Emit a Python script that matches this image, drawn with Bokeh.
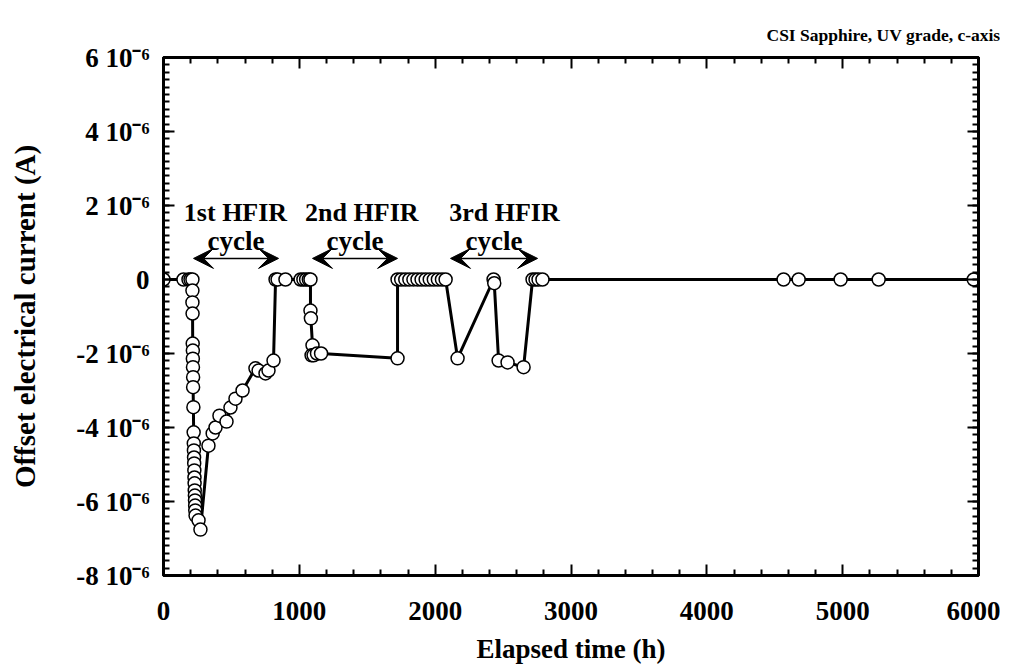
from bokeh.plotting import figure
from bokeh.models import (LinearAxis, FixedTicker, Arrow, VeeHead, Title,
                          ColumnDataSource, CustomJSTickFormatter)
from bokeh.core.properties import value
from bokeh.embed import file_html
from bokeh.resources import INLINE
import numpy as np

# ---------------- data (elapsed time in h, current in microamps) ----------
time_h = [0, 147, 184, 199, 213,
          213, 213, 214, 215, 216, 216, 217, 218, 218, 220, 222, 223, 224, 225,
          226, 227, 228, 229, 230, 231, 232, 233, 234, 236, 258, 272,
          331, 362, 383, 412, 464, 493, 530, 582, 677, 700, 751, 773, 810,
          825, 840, 898, 1009, 1030, 1050, 1070, 1082, 1082, 1085, 1097, 1090,
          1105, 1130, 1160, 1723,
          1723, 1750, 1780, 1810, 1840, 1870, 1900, 1930, 1960, 1990, 2020,
          2050, 2077,
          2165, 2430, 2435, 2467, 2533, 2651, 2717, 2739, 2761, 2790,
          4565, 4676, 4985, 5265, 5965]
current_uA = [0, 0, 0, 0, 0,
              -0.30, -0.62, -0.92, -1.73, -1.92, -2.14, -2.37, -2.64, -2.91,
              -3.45, -4.13, -4.43, -4.62, -4.81, -4.97, -5.16, -5.35, -5.51,
              -5.70, -5.84, -5.97, -6.11, -6.24, -6.38, -6.51, -6.76,
              -4.49, -4.16, -4.00, -3.68, -3.84, -3.46, -3.22, -3.00, -2.40,
              -2.46, -2.54, -2.46, -2.19,
              0, 0, 0, 0, 0, 0, 0, 0, -0.84, -1.05, -1.78, -2.05,
              -2.05, -2.00, -2.00, -2.13,
              0, 0, 0, 0, 0, 0, 0, 0, 0, 0, 0,
              0, 0,
              -2.13, 0, -0.10, -2.19, -2.24, -2.37, 0, 0, 0, 0,
              0, 0, 0, 0, 0]
current_A = [c * 1e-6 for c in current_uA]

x_ticks = [0, 1000, 2000, 3000, 4000, 5000, 6000]
x_tick_labels = ["0", "1000", "2000", "3000", "4000", "5000", "6000"]
y_ticks = [-8e-6, -6e-6, -4e-6, -2e-6, 0.0, 2e-6, 4e-6, 6e-6]
y_tick_labels = ["-8 10\u207b\u2076", "-6 10\u207b\u2076", "-4 10\u207b\u2076",
                 "-2 10\u207b\u2076", "0", "2 10\u207b\u2076",
                 "4 10\u207b\u2076", "6 10\u207b\u2076"]

cycle_names = ["1st HFIR", "2nd HFIR", "3rd HFIR"]
cycle_name_x = [530, 1460, 2510]
cycle_start = [221, 1097, 2113]
cycle_end = [847, 1723, 2754]

title_text = "CSI Sapphire, UV grade, c-axis"
x_label = "Elapsed time (h)"
y_label = "Offset electrical current (A)"

FONT = "Liberation Serif"

p = figure(width=1000, height=669, output_backend="svg", toolbar_location=None,
           x_range=(0, 6000), y_range=(-8e-6, 6e-6),
           min_border_left=163, min_border_right=22, min_border_top=57,
           min_border_bottom=94, x_axis_type=None, y_axis_type=None)
p.grid.visible = False
p.outline_line_color = "black"
p.outline_line_width = 3
p.background_fill_color = "white"
p.border_fill_color = "white"

x_minor = [v for v in np.arange(0, 6001, 200) if v % 1000 != 0]
y_minor = [v * 1e-6 for v in np.arange(-8, 6.01, 0.2)]

blank = CustomJSTickFormatter(code="return ''")


def style_axis(ax, labels=True):
    ax.axis_line_color = "black"
    ax.axis_line_width = 3
    ax.major_tick_in = 11
    ax.major_tick_out = 0
    ax.minor_tick_in = 6
    ax.minor_tick_out = 0
    ax.major_tick_line_width = 2
    ax.minor_tick_line_width = 2
    ax.major_tick_line_color = "black"
    ax.minor_tick_line_color = "black"
    ax.major_label_text_font = FONT
    ax.major_label_text_font_style = "bold"
    ax.major_label_text_color = "black"
    ax.major_label_text_font_size = "27px"
    ax.axis_label_text_font = FONT
    ax.axis_label_text_font_style = "bold"
    ax.axis_label_text_font_size = "27px"
    ax.axis_label_text_color = "black"
    if not labels:
        ax.formatter = blank
        ax.major_label_standoff = 0


xb = LinearAxis(ticker=FixedTicker(ticks=x_ticks, minor_ticks=x_minor),
                axis_label=x_label)
xb.major_label_overrides = dict(zip(x_ticks, x_tick_labels))
style_axis(xb)
xb.major_label_standoff = 26
xb.axis_label_standoff = 11
p.add_layout(xb, "below")

yl = LinearAxis(ticker=FixedTicker(ticks=y_ticks, minor_ticks=y_minor),
                axis_label=y_label)
yl.major_label_overrides = dict(zip(y_ticks, y_tick_labels))
style_axis(yl)
yl.axis_label_text_font_size = "29px"
yl.major_label_standoff = 14
yl.axis_label_standoff = 32
p.add_layout(yl, "left")

xt = LinearAxis(ticker=FixedTicker(ticks=x_ticks, minor_ticks=x_minor))
style_axis(xt, labels=False)
p.add_layout(xt, "above")

yr = LinearAxis(ticker=FixedTicker(ticks=y_ticks, minor_ticks=y_minor))
style_axis(yr, labels=False)
p.add_layout(yr, "right")

t = Title(text=title_text, align="right", text_font=FONT,
          text_font_style="bold", text_font_size="17.5px", text_color="black",
          offset=-22, standoff=26)
p.add_layout(t, "above")

src = ColumnDataSource(dict(x=time_h, y=current_A))
p.line("x", "y", source=src, line_color="black", line_width=3)
p.scatter("x", "y", source=src, size=13, fill_color="white",
          line_color="black", line_width=1.5)

# cycle annotations
p.text(x=cycle_name_x, y=[1.8e-6] * 3, text=cycle_names,
       text_font=value(FONT), text_font_style="bold", text_font_size="26px",
       text_align="center", text_baseline="middle", text_color="black")
p.text(x=[(a + b) / 2 for a, b in zip(cycle_start, cycle_end)],
       y=[1.03e-6] * 3, text=["cycle"] * 3,
       text_font=value(FONT), text_font_style="bold", text_font_size="27px",
       text_align="center", text_baseline="middle", text_color="black")
for a, b in zip(cycle_start, cycle_end):
    p.add_layout(Arrow(x_start=a, y_start=0.57e-6, x_end=b, y_end=0.57e-6,
                       line_width=1.5, line_color="black",
                       start=VeeHead(size=20, fill_color="black",
                                     line_color="black"),
                       end=VeeHead(size=20, fill_color="black",
                                   line_color="black")))

open("out.html", "w").write(file_html(p, INLINE))
